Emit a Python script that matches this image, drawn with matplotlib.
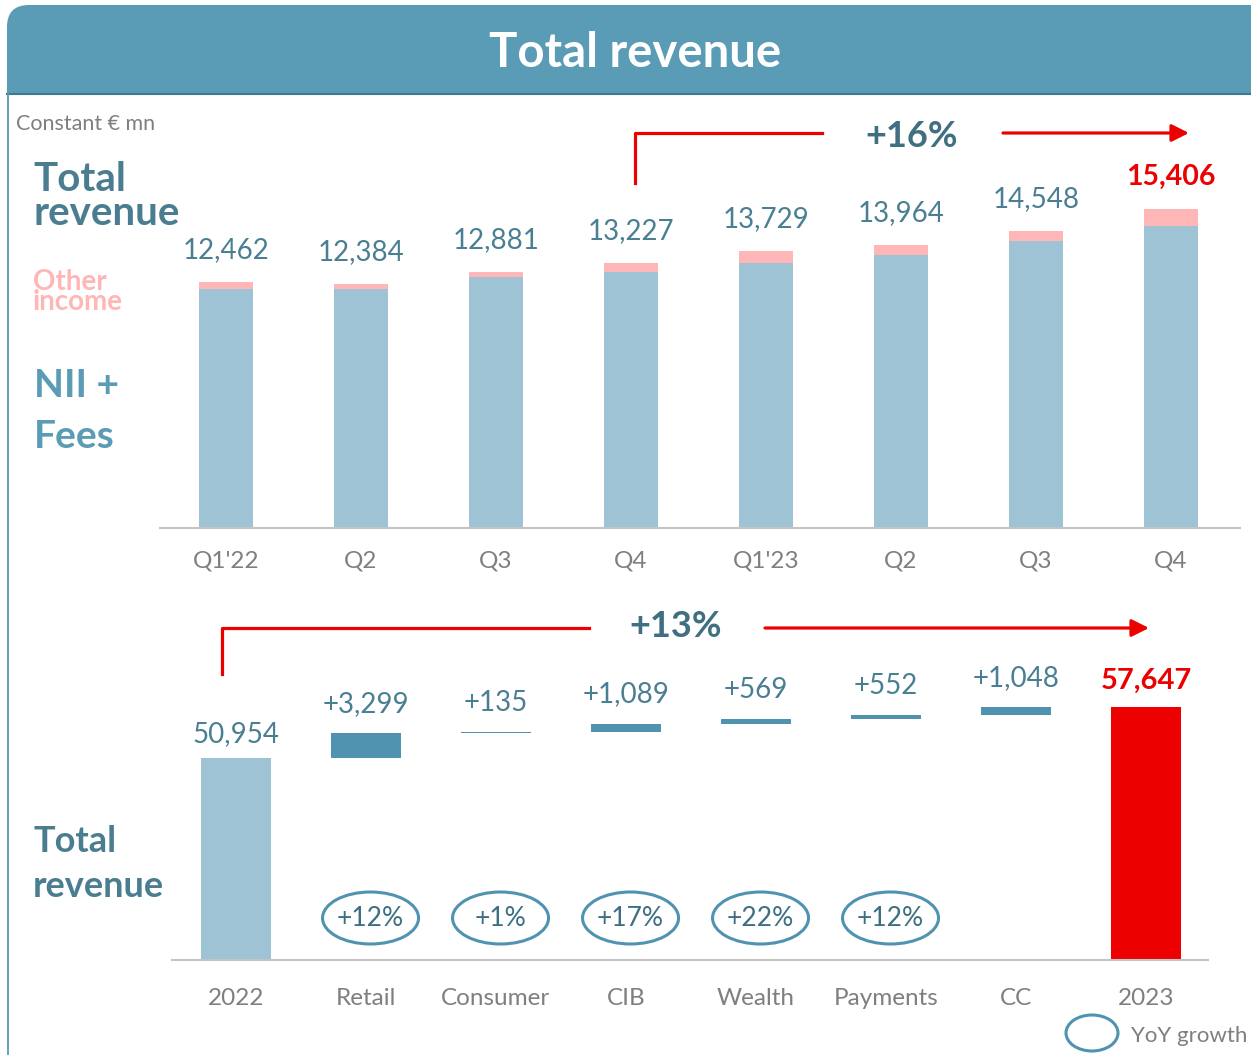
import matplotlib
matplotlib.use('Agg')
import matplotlib.pyplot as plt
from matplotlib.patches import FancyBboxPatch, Rectangle, Ellipse, FancyArrowPatch
from matplotlib.lines import Line2D
from matplotlib.transforms import IdentityTransform, blended_transform_factory

plt.rcParams['font.family'] = ['Lato', 'DejaVu Sans']

# ---------------- data ----------------
quarters = ["Q1'22", "Q2", "Q3", "Q4", "Q1'23", "Q2", "Q3", "Q4"]
total_q = [12462, 12384, 12881, 13227, 13729, 13964, 14548, 15406]
other_q = [250, 200, 190, 360, 480, 410, 430, 670]

segments = ["2022", "Retail", "Consumer", "CIB", "Wealth", "Payments", "CC", "2023"]
start_total = 50954
deltas = [3299, 135, 1089, 569, 552, 1048]
end_total = 57647
yoy = ["+12%", "+1%", "+17%", "+22%", "+12%", ""]

growth_quarter = "+16%"
growth_year = "+13%"

# ---------------- style ----------------
W, H = 1251, 1055
C_HEADER = '#5a9bb5'
C_LIGHT = '#9dc3d4'
C_PINK = '#ffb6b6'
C_DELTA = '#4f93b0'
C_RED = '#ec0000'
C_LABEL = '#4a7d90'
C_VAL = '#4a7f93'
C_GREY = '#7f7f7f'

fig = plt.figure(figsize=(W / 100, H / 100), dpi=100)
ID = IdentityTransform()


def P(x, y):
    return (x, H - y)


# header band
hdr = FancyBboxPatch((7, H - 94), 1300, 89, boxstyle='round,pad=0,rounding_size=22',
                     transform=ID, facecolor=C_HEADER, edgecolor='none')
fig.add_artist(hdr)
fig.add_artist(Rectangle((7, H - 94), 1300, 40, transform=ID, facecolor=C_HEADER, edgecolor='none'))
fig.add_artist(Line2D([7, W], [H - 94, H - 94], transform=ID, color='#3d7a90', lw=1.5))
fig.add_artist(Line2D([7.5, 7.5], [0, H - 94], transform=ID, color=C_HEADER, lw=1.3))
fig.text(*P(635, 67), "Total revenue", transform=ID, ha='center', va='baseline',
         color='white', fontsize=34, fontweight='bold')

fig.text(*P(16, 130), "Constant € mn", transform=ID, ha='left', va='baseline',
         color=C_GREY, fontsize=15.5)

# left labels
fig.text(*P(33, 191), "Total", transform=ID, ha='left', va='baseline', color=C_LABEL, fontsize=29, fontweight='bold')
fig.text(*P(33, 225), "revenue", transform=ID, ha='left', va='baseline', color=C_LABEL, fontsize=29, fontweight='bold')
fig.text(*P(33, 310), "Other\nincome", transform=ID, ha='left', va='baseline', color=C_PINK,
         fontsize=20, fontweight='bold', linespacing=0.7)
fig.text(*P(34, 397), "NII +", transform=ID, ha='left', va='baseline', color=C_HEADER, fontsize=28, fontweight='bold')
fig.text(*P(34, 448), "Fees", transform=ID, ha='left', va='baseline', color=C_HEADER, fontsize=28, fontweight='bold')
fig.text(*P(33, 852), "Total", transform=ID, ha='left', va='baseline', color=C_LABEL, fontsize=26, fontweight='bold')
fig.text(*P(33, 897), "revenue", transform=ID, ha='left', va='baseline', color=C_LABEL, fontsize=26, fontweight='bold')

# ---------------- top chart ----------------
ax1 = fig.add_axes([160 / W, 1 - 528 / H, 1080 / W, (528 - 110) / H])
x1 = list(range(len(quarters)))
nii_q = [t - o for t, o in zip(total_q, other_q)]
ax1.bar(x1, nii_q, width=0.407, color=C_LIGHT)
ax1.bar(x1, other_q, bottom=nii_q, width=0.407, color=C_PINK)
ax1.set_xlim(-0.489, 7.511)
ax1.set_ylim(2590, 2590 + 418 / 0.02487)
for s in ['top', 'left', 'right']:
    ax1.spines[s].set_visible(False)
ax1.spines['bottom'].set_color('#c4c4c4')
ax1.spines['bottom'].set_linewidth(1.5)
ax1.set_yticks([])
ax1.set_xticks(x1, quarters)
ax1.tick_params(axis='x', length=0, pad=16.5, labelsize=17.5, labelcolor=C_GREY)
for i, t in enumerate(total_q):
    last = i == len(total_q) - 1
    ax1.annotate(f"{t:,}", (i, t), xytext=(0, 23), textcoords='offset points',
                 ha='center', va='center', fontsize=20.5 if last else 20,
                 color=C_RED if last else C_VAL, fontweight='bold' if last else 'normal')

# ---------------- bottom chart ----------------
ax2 = fig.add_axes([172 / W, 1 - 960 / H, 1036 / W, (960 - 640) / H])
ax2.set_xlim(-0.4923, 7.477)
ax2.set_ylim(24375, 24375 + 320 / 0.0076)
ax2.bar(0, start_total, width=0.546, color=C_LIGHT)
cum = start_total
for i, d in enumerate(deltas, start=1):
    ax2.bar(i, d, bottom=cum, width=0.546, color=C_DELTA)
    ax2.annotate(f"+{d:,}", (i, cum + d), xytext=(0, 21), textcoords='offset points',
                 ha='center', va='center', fontsize=20, color=C_VAL)
    cum += d
ax2.bar(7, end_total, width=0.546, color=C_RED)
ax2.annotate(f"{start_total:,}", (0, start_total), xytext=(0, 17), textcoords='offset points',
             ha='center', va='center', fontsize=20, color=C_VAL)
ax2.annotate(f"{end_total:,}", (7, end_total), xytext=(0, 19), textcoords='offset points',
             ha='center', va='center', fontsize=21, color=C_RED, fontweight='bold')
for s in ['top', 'left', 'right']:
    ax2.spines[s].set_visible(False)
ax2.spines['bottom'].set_color('#c4c4c4')
ax2.spines['bottom'].set_linewidth(1.5)
ax2.set_yticks([])
ax2.set_xticks(range(len(segments)), segments)
ax2.tick_params(axis='x', length=0, pad=20, labelsize=17.5, labelcolor=C_GREY)

blend = blended_transform_factory(ax2.transData, ID)
for i, g in enumerate(yoy, start=1):
    if not g:
        continue
    ax2.add_patch(Ellipse((i + 0.035, H - 918), 96 / 130, 52, transform=blend,
                          fill=False, edgecolor=C_DELTA, lw=2.2))
    ax2.text(i + 0.035, H - 919, g, transform=blend, ha='center', va='center',
             fontsize=19, color='#3d6f82')

# legend
fig.add_artist(Ellipse(P(1092, 1033), 52, 36, transform=ID, fill=False, edgecolor=C_DELTA, lw=2.2))
fig.text(*P(1131, 1036), "YoY growth", transform=ID, ha='left', va='center', color=C_GREY, fontsize=16)

# ---------------- growth arrows ----------------
RED_LW = 2.3
fig.add_artist(Line2D([635, 635, 822], [H - 183, H - 133, H - 133], transform=ID, color=C_RED, lw=RED_LW))
fig.add_artist(FancyArrowPatch(P(1003, 133), P(1189, 133), transform=ID, arrowstyle='-|>',
                               mutation_scale=26, color=C_RED, lw=RED_LW, shrinkA=0, shrinkB=0))
fig.text(*P(912, 147), growth_quarter, transform=ID, ha='center', va='baseline',
         fontsize=26, fontweight='bold', color='#3f6f80')

fig.add_artist(Line2D([222, 222, 589], [H - 674, H - 628, H - 628], transform=ID, color=C_RED, lw=RED_LW))
fig.add_artist(FancyArrowPatch(P(765, 628), P(1149, 628), transform=ID, arrowstyle='-|>',
                               mutation_scale=26, color=C_RED, lw=RED_LW, shrinkA=0, shrinkB=0))
fig.text(*P(676, 637), growth_year, transform=ID, ha='center', va='baseline',
         fontsize=26, fontweight='bold', color='#3f6f80')

fig.savefig('out.png', dpi=100)
